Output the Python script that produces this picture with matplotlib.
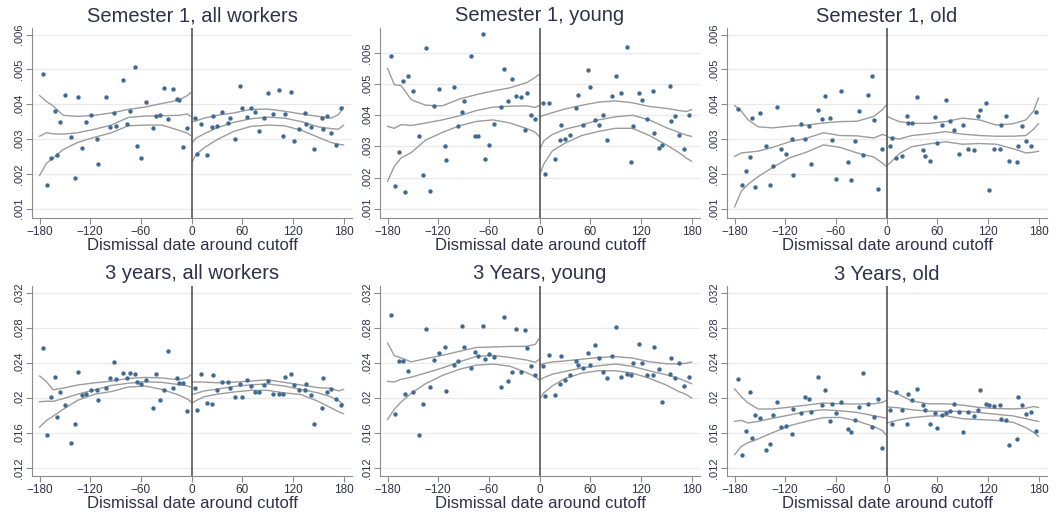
import matplotlib
matplotlib.use("Agg")
import matplotlib.pyplot as plt

plt.rcParams["font.family"] = ["Liberation Sans", "DejaVu Sans"]

# ── bin positions (days around cutoff) ─────────────────────────────────────────
X_LEFT = [-176.5, -171, -167, -161.5, -159, -155.5, -149.5, -142.5, -137.5, -134.5,
          -130, -124.5, -119, -112.5, -110.5, -101.5, -96.5, -91.5, -89.5, -81.5,
          -76.5, -73.5, -67.5, -65, -59.5, -53.5, -46, -42.5, -37, -33,
          -27.5, -22, -17.5, -15, -10.5, -5]
X_RIGHT = [4, 6, 11, 18, 24, 25, 30, 36, 43, 46,
           52, 57, 60, 66, 70, 75, 80, 86, 90, 97,
           103, 108, 111, 118, 121, 127, 134, 135.5, 141.5, 145,
           154, 156, 160, 165, 170.5, 177.5]

# x positions where the fitted lines / bands were read
KNOTS_L = [-180, -172, -164, -152, -135, -115, -95, -75, -55, -35, -15, -5, -1]
KNOTS_R = [1, 5, 15, 30, 50, 70, 90, 110, 130, 150, 165, 174, 180]

# ── Semester 1, all workers ────────────────────────────────────────────────────
S1_ALL_PTS_L = [.00487, .00169, .00246, .0038, .00255, .00349, .00426, .00307, .00188, .0042,
                .00275, .00349, .00368, .00301, .00228, .0042, .00334, .00374, .00338, .00471,
                .00344, .0038, .00507, .00279, .00245, .00406, .00331, .00367, .0037, .00448,
                .00357, .00444, .00416, .00413, .00276, .00331]
S1_ALL_PTS_R = [.0036, .00256, .00343, .00255, .00335, .00366, .00337, .00378, .00346, .00359,
                .00301, .00452, .00388, .00362, .00388, .00378, .00324, .0036, .00431, .00373,
                .00441, .00309, .00373, .00436, .00295, .00329, .00374, .00343, .00334, .0027,
                .0036, .0033, .00366, .00316, .00284, .0039]
S1_ALL_HI_L = [.00425, .00408, .00395, .00368, .00365, .00368, .00375, .00385, .00392, .00402, .00412, .00425, .00433]
S1_ALL_MID_L = [.00308, .00318, .00315, .00314, .00318, .00328, .0034, .00362, .00366, .00367, .00368, .00372, .00365]
S1_ALL_LO_L = [.00195, .0023, .00245, .0027, .0029, .00305, .00318, .00338, .0034, .0034, .00325, .00317, .0031]
S1_ALL_HI_R = [.0035, .00352, .0036, .00368, .00375, .00385, .00386, .0038, .00372, .00365, .0036, .0037, .00392]
S1_ALL_MID_R = [.0029, .00302, .00315, .00332, .00348, .00358, .00363, .0036, .0035, .00335, .0033, .00328, .0034]
S1_ALL_LO_R = [.00235, .00255, .00275, .00298, .00322, .00336, .0034, .00338, .00325, .00305, .0029, .00285, .00283]

# ── Semester 1, young ──────────────────────────────────────────────────────────
S1_YNG_PTS_L = [.00589, .00172, .00283, .00511, .00152, .00525, .00477, .00332, .00209, .00616,
                .00156, .00429, .00484, .003, .00255, .00491, .00364, .00409, .00445, .00589,
                .00334, .00334, .0066, .0026, .00303, .00373, .00425, .00549, .00447, .00516,
                .00463, .00459, .00354, .00472, .00402, .00388]
S1_YNG_PTS_R = [.0044, .00212, .0044, .0026, .00322, .00367, .00324, .00338, .00423, .00466,
                .00367, .00544, .0049, .00386, .00367, .00402, .00322, .00461, .00525, .00472,
                .00618, .00249, .00364, .00472, .00448, .00389, .00477, .00343, .00295, .00303,
                .00495, .00383, .00399, .00338, .0029, .004]
S1_YNG_HI_L = [.0055, .00498, .00495, .0045, .00432, .0043, .00452, .00466, .00478, .00488, .00505, .00522, .0053]
S1_YNG_MID_L = [.00364, .00358, .0037, .00367, .00375, .00385, .00398, .00415, .00426, .00429, .0043, .00425, .0043]
S1_YNG_LO_L = [.00188, .00236, .00263, .0028, .0032, .00345, .00366, .0038, .00385, .00375, .00357, .00345, .00333]
S1_YNG_HI_R = [.00395, .004, .00408, .0042, .00432, .00442, .00446, .0044, .00428, .00422, .00415, .00412, .00418]
S1_YNG_MID_R = [.00295, .00318, .00338, .00355, .00368, .00385, .00395, .004, .00385, .0036, .00345, .00336, .00332]
S1_YNG_LO_R = [.00215, .00243, .00285, .0031, .00335, .00348, .00358, .00358, .00335, .00305, .0028, .00262, .00252]

# ── Semester 1, old ────────────────────────────────────────────────────────────
S1_OLD_PTS_L = [.00387, .00167, .00209, .00248, .0036, .00162, .00375, .00281, .00167, .00222,
                .00391, .00272, .00257, .003, .00198, .00343, .003, .00337, .00229, .00382,
                .00358, .00423, .0036, .00296, .00186, .00437, .00233, .00181, .00293, .0038,
                .00253, .00426, .0048, .00354, .00156, .00272]
S1_OLD_PTS_R = [.00279, .00303, .00246, .0025, .00367, .00346, .00346, .0042, .00268, .0025,
                .00236, .00363, .00289, .00339, .00411, .00353, .00325, .00258, .00341, .00272,
                .00267, .00367, .00382, .00404, .00153, .00272, .00272, .00341, .00367, .00236,
                .00233, .00279, .00337, .00293, .00279, .00378]
S1_OLD_HI_L = [.00396, .0038, .00355, .00335, .00332, .00337, .0034, .00346, .0035, .00351, .00365, .00384, .00396]
S1_OLD_MID_L = [.0025, .0026, .00262, .00265, .00276, .00292, .00302, .00318, .0031, .00309, .00303, .00313, .0031]
S1_OLD_LO_L = [.00105, .0015, .0017, .00192, .00218, .00246, .00262, .00283, .00276, .0026, .00248, .00231, .00222]
S1_OLD_HI_R = [.00365, .0036, .0035, .00345, .00345, .0035, .0036, .00355, .0034, .00344, .00355, .0038, .00418]
S1_OLD_MID_R = [.00306, .00304, .003, .0031, .00315, .00321, .00314, .0031, .00308, .00308, .0031, .00328, .00344]
S1_OLD_LO_R = [.00225, .00233, .00258, .00278, .00286, .00292, .00285, .00287, .00285, .00272, .0026, .00262, .00265]

# ── 3 years, all workers ───────────────────────────────────────────────────────
Y3_ALL_PTS_L = [.02571, .01573, .02008, .0224, .01783, .02069, .01912, .01482, .01695, .02297,
                .0203, .02038, .02084, .02084, .01973, .02107, .02221, .02408, .0221, .02286,
                .02221, .02286, .02267, .02183, .0216, .02198, .01878, .02267, .0197, .02091,
                .02533, .02114, .02221, .02171, .02171, .01848]
Y3_ALL_PTS_R = [.02114, .01855, .02274, .01943, .01931, .02259, .02088, .02179, .02179, .02114,
                .02011, .0216, .02008, .02198, .02133, .02069, .02069, .02145, .0219, .02038,
                .02038, .02046, .0224, .02267, .02145, .02084, .02084, .02152, .02027, .01703,
                .01886, .02229, .02069, .02095, .01981, .01912]
Y3_ALL_HI_L = [.02248, .02185, .0209, .0211, .02145, .0217, .0219, .0222, .02232, .02225, .02205, .0223, .0226]
Y3_ALL_MID_L = [.01954, .0196, .01958, .0199, .0204, .0209, .0214, .02165, .02183, .02175, .0215, .02135, .02122]
Y3_ALL_LO_L = [.01665, .01738, .0179, .01868, .0197, .0204, .0207, .02122, .02133, .02095, .0203, .01985, .01955]
Y3_ALL_HI_R = [.02183, .0218, .02178, .02171, .02178, .0219, .02205, .02175, .02145, .02115, .02107, .02078, .02095]
Y3_ALL_MID_R = [.02038, .02048, .02078, .02098, .02128, .02147, .02158, .02133, .02095, .02055, .0201, .01965, .01924]
Y3_ALL_LO_R = [.01943, .01965, .02012, .0204, .02065, .02084, .02084, .02055, .02035, .01958, .01885, .0184, .01817]

# ── 3 Years, young ─────────────────────────────────────────────────────────────
Y3_YNG_PTS_L = [.02941, .01814, .02415, .02423, .02043, .02309, .02061, .0157, .01929, .02789,
                .02122, .02434, .02506, .02583, .0208, .02377, .02415, .02815, .02583, .0234,
                .02522, .02472, .0282, .02442, .025, .02465, .02118, .02918, .02191, .02289,
                .02789, .02289, .0277, .02568, .02366, .02263]
Y3_YNG_PTS_R = [.02366, .02015, .02483, .02027, .02157, .0248, .02198, .02263, .02423, .02374,
                .0234, .02514, .02374, .02606, .02457, .02289, .02225, .0248, .02804, .02236,
                .02274, .02255, .02392, .02614, .02392, .02255, .02255, .02579, .0233, .01946,
                .0227, .02453, .0222, .02392, .02129, .02236]
Y3_YNG_HI_L = [.02625, .0248, .02455, .0241, .02446, .02485, .0253, .02575, .0258, .02586, .02588, .0261, .0267]
Y3_YNG_MID_L = [.02187, .0218, .0221, .02235, .02282, .0234, .0241, .02472, .02483, .0246, .0243, .02405, .02434]
Y3_YNG_LO_L = [.0175, .0187, .0195, .0205, .0216, .02255, .02325, .02372, .02385, .0236, .02285, .0224, .02206]
Y3_YNG_HI_R = [.02377, .0239, .02408, .0242, .0244, .0246, .0247, .02453, .02412, .02388, .02386, .02395, .02408]
Y3_YNG_MID_R = [.02209, .0223, .02268, .023, .0234, .02365, .02385, .02358, .02308, .02262, .0222, .02185, .0216]
Y3_YNG_LO_R = [.01997, .02055, .02135, .0222, .0228, .02309, .02308, .02282, .02222, .02145, .0207, .02035, .01997]

# ── 3 Years, old ───────────────────────────────────────────────────────────────
Y3_OLD_PTS_L = [.02217, .01349, .01615, .02061, .01535, .01806, .01764, .01402, .01467, .01798,
                .01951, .01665, .0168, .01589, .01874, .01829, .02008, .01989, .01832, .0224,
                .01917, .02091, .01729, .01928, .0182, .01947, .01642, .01608, .01741, .01889,
                .02282, .01924, .01665, .0178, .01989, .01425]
Y3_OLD_PTS_R = [.01855, .01699, .02061, .01855, .01699, .02042, .01977, .021, .0192, .01863,
                .01699, .01825, .01649, .01806, .01825, .01851, .01931, .01832, .01603, .01832,
                .01787, .01859, .02084, .01928, .01912, .01901, .0192, .01756, .01741, .01463,
                .01528, .02008, .0192, .01817, .01832, .01615]
Y3_OLD_HI_L = [.021, .0201, .0194, .0187, .01871, .01892, .01915, .0194, .0193, .01928, .0193, .01947, .01966]
Y3_OLD_MID_L = [.01729, .01741, .01711, .0173, .01765, .01802, .01842, .01862, .01851, .01832, .01794, .01775, .01768]
Y3_OLD_LO_L = [.01349, .01445, .01485, .0153, .016, .0168, .0173, .01772, .01775, .01735, .0167, .01625, .01577]
Y3_OLD_HI_R = [.02084, .02072, .02035, .01962, .0193, .0193, .01915, .01888, .01876, .01872, .0188, .01898, .01889]
Y3_OLD_MID_R = [.01894, .01891, .01884, .01862, .01846, .01844, .01844, .0183, .0181, .01792, .0176, .0174, .01729]
Y3_OLD_LO_R = [.01711, .01725, .01747, .01772, .0179, .01794, .0176, .0175, .0174, .01718, .01658, .01605, .01558]

# ── axis labels ────────────────────────────────────────────────────────────────
TITLES = ["Semester 1, all workers", "Semester 1, young", "Semester 1, old",
          "3 years, all workers", "3 Years, young", "3 Years, old"]
X_TICKS = [-180, -120, -60, 0, 60, 120, 180]
Y_TICKS_S1 = [.001, .002, .003, .004, .005, .006]
Y_LABELS_S1 = [".001", ".002", ".003", ".004", ".005", ".006"]
Y_TICKS_Y3 = [.012, .016, .020, .024, .028, .032]
Y_LABELS_Y3 = [".012", ".016", ".02", ".024", ".028", ".032"]
XLABEL = "Dismissal date around cutoff"

# ── style ──────────────────────────────────────────────────────────────────────
DOT = "#3f6a94"
FIT = "#9c9c9c"
CUT = "#555555"
AXC = "#8c8c8c"
TXT = "#2d3248"

PANELS = [
    (S1_ALL_PTS_L, S1_ALL_PTS_R, S1_ALL_HI_L, S1_ALL_MID_L, S1_ALL_LO_L, S1_ALL_HI_R, S1_ALL_MID_R, S1_ALL_LO_R),
    (S1_YNG_PTS_L, S1_YNG_PTS_R, S1_YNG_HI_L, S1_YNG_MID_L, S1_YNG_LO_L, S1_YNG_HI_R, S1_YNG_MID_R, S1_YNG_LO_R),
    (S1_OLD_PTS_L, S1_OLD_PTS_R, S1_OLD_HI_L, S1_OLD_MID_L, S1_OLD_LO_L, S1_OLD_HI_R, S1_OLD_MID_R, S1_OLD_LO_R),
    (Y3_ALL_PTS_L, Y3_ALL_PTS_R, Y3_ALL_HI_L, Y3_ALL_MID_L, Y3_ALL_LO_L, Y3_ALL_HI_R, Y3_ALL_MID_R, Y3_ALL_LO_R),
    (Y3_YNG_PTS_L, Y3_YNG_PTS_R, Y3_YNG_HI_L, Y3_YNG_MID_L, Y3_YNG_LO_L, Y3_YNG_HI_R, Y3_YNG_MID_R, Y3_YNG_LO_R),
    (Y3_OLD_PTS_L, Y3_OLD_PTS_R, Y3_OLD_HI_L, Y3_OLD_MID_L, Y3_OLD_LO_L, Y3_OLD_HI_R, Y3_OLD_MID_R, Y3_OLD_LO_R),
]

W, H = 1057, 517
COL_LEFT = [32, 380, 727]      # px
ROW_TOP = [28, 286]            # px
AX_W, AX_H = 320, 190          # px
YLIMS = [(.00073, .00619), (.0007, .0068), (.00073, .00619)]

fig = plt.figure(figsize=(W / 100, H / 100), dpi=100)

for i, (pl, pr, hl, ml, ll, hr, mr, lr) in enumerate(PANELS):
    row, col = divmod(i, 3)
    rect = [COL_LEFT[col] / W, 1 - (ROW_TOP[row] + AX_H) / H, AX_W / W, AX_H / H]
    ax = fig.add_axes(rect)

    if row == 0:
        ax.set_ylim(*YLIMS[col])
        ax.set_yticks(Y_TICKS_S1)
        ax.set_yticklabels(Y_LABELS_S1, rotation=90, va="center")
    else:
        ax.set_ylim(.01105, .03277)
        ax.set_yticks(Y_TICKS_Y3)
        ax.set_yticklabels(Y_LABELS_Y3, rotation=90, va="center")
    ax.set_xlim(-189, 190)
    ax.set_xticks(X_TICKS)

    ax.grid(axis="y", color="#e9e9e9", linewidth=0.9)
    ax.set_axisbelow(True)

    # fitted line and confidence band on each side of the cutoff
    for knots, hi, mid, lo in [(KNOTS_L, hl, ml, ll), (KNOTS_R, hr, mr, lr)]:
        for ys in (hi, mid, lo):
            ax.plot(knots, ys, color=FIT, linewidth=1.0, zorder=2)
    ax.scatter(X_LEFT, pl, s=10, color=DOT, linewidths=0, zorder=3)
    ax.scatter(X_RIGHT, pr, s=10, color=DOT, linewidths=0, zorder=3)
    ax.axvline(0, color=CUT, linewidth=1.2, zorder=4)

    for s in ("top", "right"):
        ax.spines[s].set_visible(False)
    for s in ("left", "bottom"):
        ax.spines[s].set_color(AXC)
        ax.spines[s].set_linewidth(0.8)
    ax.tick_params(direction="out", length=4, width=0.8, color=AXC,
                   labelcolor=TXT, labelsize=8.5, pad=2)
    ax.tick_params(axis="y", labelsize=8)

    ax.set_title(TITLES[i], fontsize=14.5, color=TXT, pad=5)
    ax.set_xlabel(XLABEL, fontsize=12, color=TXT, labelpad=0)

fig.savefig("out.png", dpi=100, facecolor="white")
